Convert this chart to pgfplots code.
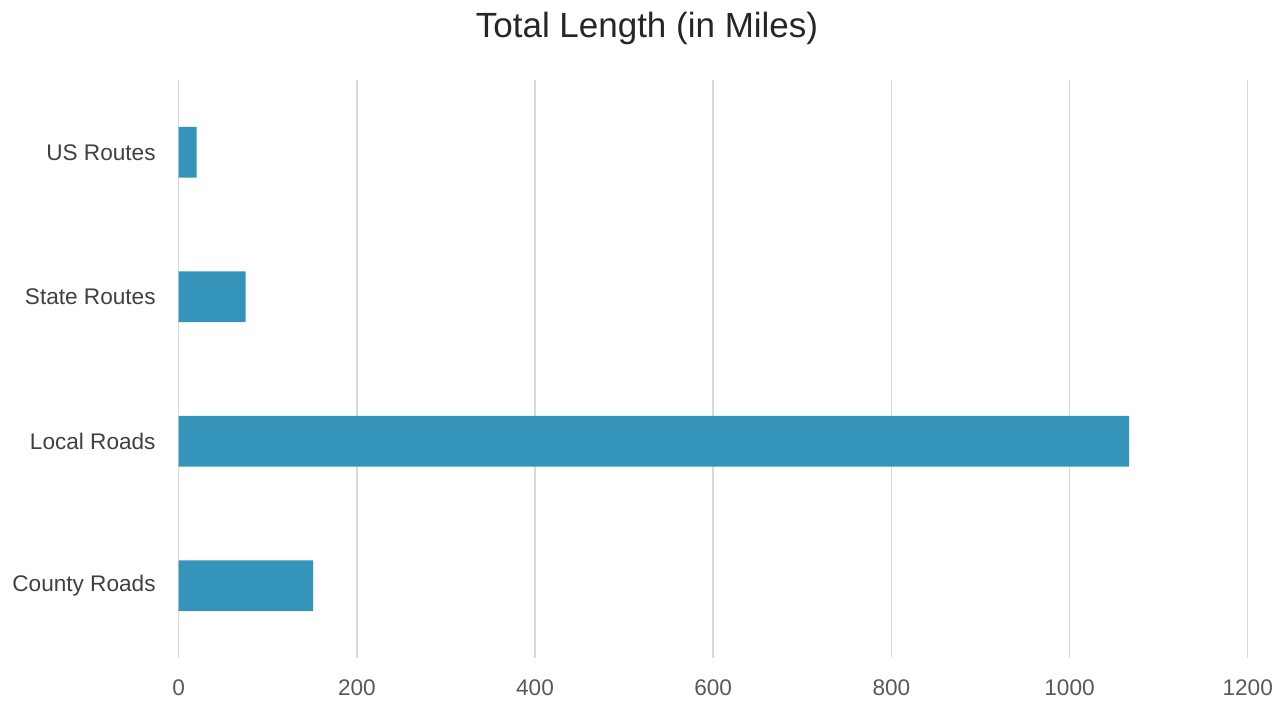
\documentclass[border=0pt]{standalone}
\usepackage{pgfplots}
\pgfplotsset{compat=1.18}
\usepackage{fontspec}
\setmainfont{Liberation Sans}
\definecolor{barc}{HTML}{3494BA}
\definecolor{gridc}{HTML}{D9D9D9}
\definecolor{tickc}{HTML}{595959}
\definecolor{ytickc}{HTML}{404040}
\definecolor{titlec}{HTML}{262626}
\begin{document}
\begin{tikzpicture}
\useasboundingbox (0,0) rectangle (640.5pt,350.5pt);
\node[text=titlec, font=\fontsize{17.5}{20}\selectfont] at (323.5pt,336.5pt) {Total Length (in Miles)};
\begin{axis}[
  at={(89.35pt,21.5pt)}, anchor=south west,
  scale only axis, width=534.5pt, height=289pt,
  xbar, bar width=0.35,
  xmin=0, xmax=1200, ymin=-0.5, ymax=3.5,
  xtick={0,200,...,1200},
  ytick={0,1,2,3},
  yticklabels={County Roads, Local Roads, State Routes, US Routes},
  xmajorgrids, major grid style={gridc, line width=0.75pt},
  axis line style={draw=none},
  major tick length=0pt,
  tick label style={text=tickc, font=\fontsize{11.3}{13}\selectfont},
  /pgf/number format/assume math mode=true,
  /pgf/number format/1000 sep={},
  yticklabel style={anchor=east, inner sep=0pt, xshift=-11.35pt, text=ytickc},
  xticklabel style={anchor=north, inner sep=0pt, yshift=-10.5pt},
]
\addplot[fill=barc, draw=none] coordinates {(151,0) (1067,1) (75,2) (20,3)};
\end{axis}
\end{tikzpicture}
\end{document}
